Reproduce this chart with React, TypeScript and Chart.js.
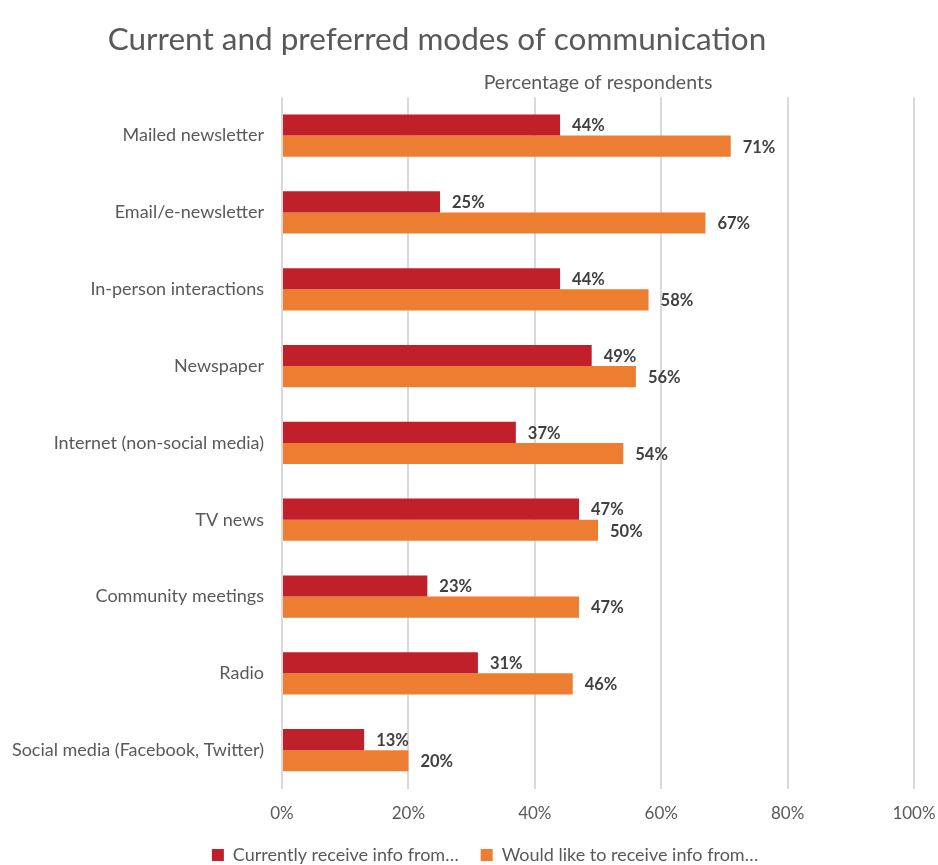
import { useEffect, useRef } from "react";
import { Chart, registerables } from "chart.js";

Chart.register(...registerables);

const chartTitle = "Current and preferred modes of communication";
const axisTitle = "Percentage of respondents";
const categories = [
  "Mailed newsletter",
  "Email/e-newsletter",
  "In-person interactions",
  "Newspaper",
  "Internet (non-social media)",
  "TV news",
  "Community meetings",
  "Radio",
  "Social media (Facebook, Twitter)",
];
const seriesNames = ["Currently receive info from…", "Would like to receive info from…"];
const currentValues = [44, 25, 44, 49, 37, 47, 23, 31, 13];
const preferredValues = [71, 67, 58, 56, 54, 50, 47, 46, 20];
const xTickValues = [0, 20, 40, 60, 80, 100];

const FONT = "Lato, 'Open Sans', sans-serif";
const TEXT = "#595959";

const valueLabels = {
  id: "valueLabels",
  afterDatasetsDraw(chart: any) {
    const ctx = chart.ctx;
    ctx.save();
    ctx.font = `bold 16.5px ${FONT}`;
    ctx.fillStyle = "#404040";
    ctx.textBaseline = "middle";
    ctx.textAlign = "left";
    chart.data.datasets.forEach((ds: any, i: number) => {
      const meta = chart.getDatasetMeta(i);
      meta.data.forEach((bar: any, j: number) => {
        ctx.fillText(`${ds.data[j]}%`, bar.x + 12, bar.y + 1);
      });
    });
    ctx.restore();
  },
};

// nudge the title and legend blocks horizontally to sit where the original ones do
const blockShift = {
  id: "blockShift",
  afterLayout(chart: any) {
    const t = chart.titleBlock;
    if (t) {
      t.left -= 20;
      t.right -= 20;
    }
    const l = chart.legend;
    if (l) {
      l.left += 28;
      l.right += 28;
    }
  },
};

export default function App() {
  const ref = useRef<HTMLCanvasElement>(null);
  useEffect(() => {
    if (!ref.current) return;
    const chart = new Chart(ref.current, {
      type: "bar",
      data: {
        labels: categories,
        datasets: [
          {
            label: seriesNames[0],
            data: currentValues,
            backgroundColor: "#C0202A",
            categoryPercentage: 0.55,
            barPercentage: 1,
          },
          {
            label: seriesNames[1],
            data: preferredValues,
            backgroundColor: "#ED7D31",
            categoryPercentage: 0.55,
            barPercentage: 1,
          },
        ],
      },
      options: {
        indexAxis: "y",
        animation: false,
        responsive: false,
        layout: { padding: { left: 0, right: 24, top: 0, bottom: -9 } },
        plugins: {
          title: {
            display: true,
            text: chartTitle,
            color: TEXT,
            font: { family: FONT, size: 31.5, weight: "normal" },
            padding: { top: 21, bottom: 12 },
          },
          legend: {
            position: "bottom",
            labels: {
              color: TEXT,
              font: { family: FONT, size: 18 },
              boxWidth: 12,
              boxHeight: 12,
              padding: 22,
            },
          },
          tooltip: { enabled: false },
        },
        scales: {
          x: {
            type: "linear",
            position: "bottom",
            min: 0,
            max: 100,
            afterBuildTicks: (s: any) => {
              s.ticks = xTickValues.map((v) => ({ value: v }));
            },
            ticks: {
              color: TEXT,
              font: { family: FONT, size: 17 },
              padding: 0,
              callback: (v: any) => `${v}%`,
            },
            grid: {
              color: "#D9D9D9",
              lineWidth: 2,
              drawTicks: true,
              tickLength: 15,
              tickColor: "rgba(0,0,0,0)",
            },
            border: { display: false },
          },
          xTop: {
            type: "linear",
            position: "top",
            axis: "x",
            min: 0,
            max: 100,
            ticks: { display: false },
            grid: { display: false, drawTicks: false },
            border: { display: false },
            title: {
              display: true,
              text: axisTitle,
              color: TEXT,
              font: { family: FONT, size: 19.5 },
              padding: { top: 0, bottom: 3 },
            },
          },
          y: {
            afterFit: (s: any) => {
              s.width = 282;
            },
            ticks: {
              color: TEXT,
              font: { family: FONT, size: 18 },
              padding: 18,
            },
            grid: { display: false, drawTicks: false },
            border: { display: false },
          },
        },
      },
      plugins: [valueLabels, blockShift],
    });
    return () => chart.destroy();
  }, []);
  return (
    <div style={{ position: "absolute", left: 0, top: 0, width: 938, height: 865, background: "#fff" }}>
      <canvas ref={ref} width={938} height={865} style={{ width: 938, height: 865 }} />
    </div>
  );
}
